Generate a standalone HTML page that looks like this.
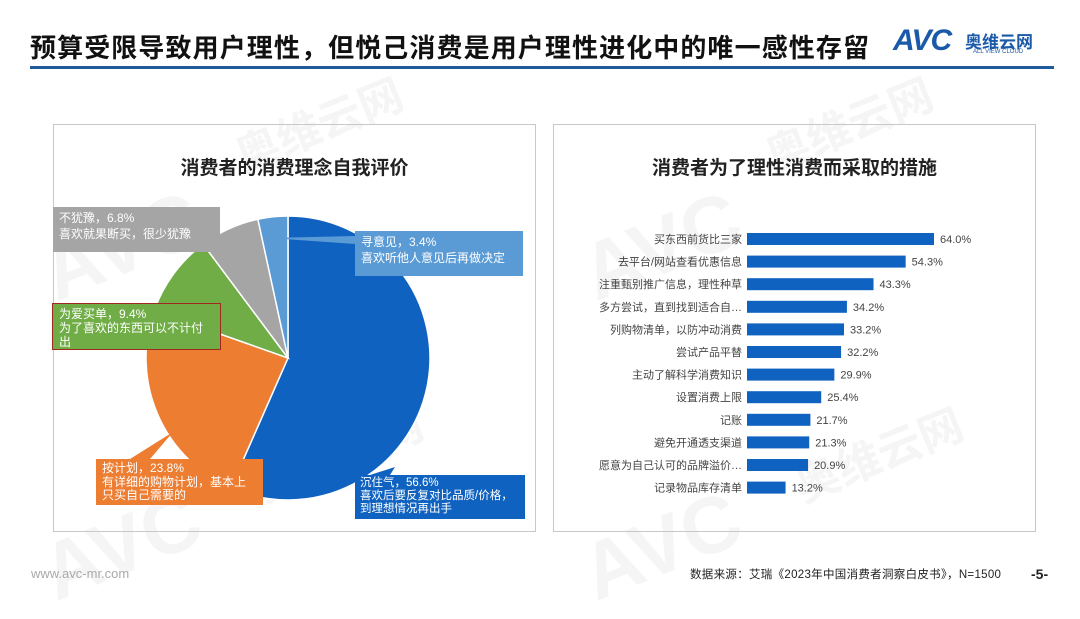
<!DOCTYPE html>
<html><head><meta charset="utf-8"><style>
body{margin:0;width:1080px;height:608px;background:#fff;overflow:hidden;position:relative;font-family:"Liberation Sans","Noto Sans CJK SC",sans-serif}
.abs{position:absolute}
.wm{position:absolute;color:rgba(215,215,215,0.25);font-weight:bold;transform:rotate(-22deg);white-space:nowrap;pointer-events:none}
.lbl{position:absolute;color:#fff;font-size:12px;line-height:16px;padding:3px 6px;box-sizing:border-box;white-space:nowrap}
</style></head><body>
<div class="abs" style="left:30px;top:28px;font-size:26px;font-weight:bold;color:#111;letter-spacing:1.1px">预算受限导致用户理性，但悦己消费是用户理性进化中的唯一感性存留</div>
<div class="abs" style="left:893px;top:24px;">
 <span style="font-size:30px;font-weight:bold;color:#1a5aa8;font-style:italic;letter-spacing:-1px">AVC</span>
 <span style="position:absolute;left:72px;top:4px;font-size:17px;font-weight:bold;color:#1a5aa8;white-space:nowrap">奥维云网</span>
 <span style="position:absolute;left:80px;top:25px;font-size:6px;color:#1a5aa8;white-space:nowrap">ALL VIEW CLOUD</span>
</div>
<div class="abs" style="left:30px;top:66px;width:1024px;height:3px;background:#1f5b9c"></div>

<div class="wm" style="left:230px;top:90px;font-size:44px">奥维云网</div>
<div class="wm" style="left:760px;top:90px;font-size:44px">奥维云网</div>
<div class="wm" style="left:250px;top:420px;font-size:44px">奥维云网</div>
<div class="wm" style="left:790px;top:420px;font-size:44px">奥维云网</div>
<div class="wm" style="left:40px;top:200px;font-size:80px">AVC</div>
<div class="wm" style="left:580px;top:200px;font-size:80px">AVC</div>
<div class="wm" style="left:40px;top:500px;font-size:80px">AVC</div>
<div class="wm" style="left:580px;top:500px;font-size:80px">AVC</div>

<div class="abs" style="left:53px;top:124px;width:483px;height:408px;border:1px solid #c8c8c8;box-sizing:border-box"></div>
<div class="abs" style="left:553px;top:124px;width:483px;height:408px;border:1px solid #c8c8c8;box-sizing:border-box"></div>
<div class="abs" style="left:53px;width:483px;top:153px;text-align:center;font-size:19px;font-weight:bold;color:#222">消费者的消费理念自我评价</div>
<div class="abs" style="left:553px;width:483px;top:153px;text-align:center;font-size:19px;font-weight:bold;color:#222">消费者为了理性消费而采取的措施</div>

<svg id="pie" class="abs" style="left:0;top:0" width="1080" height="608"></svg>
<svg id="bars" class="abs" style="left:0;top:0" width="1080" height="608"></svg>

<div class="lbl" style="left:53px;top:207px;width:167px;height:45px;background:#a5a5a5">不犹豫，6.8%<br>喜欢就果断买，很少犹豫</div>
<div class="lbl" style="left:355px;top:231px;width:168px;height:45px;background:#5b9bd5">寻意见，3.4%<br>喜欢听他人意见后再做决定</div>
<div class="lbl" style="left:52px;top:303px;width:169px;height:47px;background:#70ad47;border:1.5px solid #a0281e;line-height:14px">为爱买单，9.4%<br>为了喜欢的东西可以不计付<br>出</div>
<div class="lbl" style="left:96px;top:459px;width:167px;height:46px;background:#ed7d31;line-height:13.5px">按计划，23.8%<br>有详细的购物计划，基本上<br>只买自己需要的</div>
<div class="lbl" style="left:355px;top:475px;width:170px;height:44px;background:#0f62c0;line-height:13px;font-size:11.5px;padding:2px 5px">沉住气，56.6%<br>喜欢后要反复对比品质/价格，<br>到理想情况再出手</div>

<div class="abs" style="left:31px;top:566px;font-size:13px;color:#aaa">www.avc-mr.com</div>
<div class="abs" style="left:690px;top:566px;font-size:11.5px;color:#222;letter-spacing:0.3px">数据来源：艾瑞《2023年中国消费者洞察白皮书》，N=1500</div>
<div class="abs" style="left:1031px;top:566px;font-size:14px;color:#222;font-weight:bold">-5-</div>

<script>
const pieCats=["沉住气","按计划","为爱买单","不犹豫","寻意见"];
const pieVals=[56.6,23.8,9.4,6.8,3.4];
const pieColors=["#0f62c0","#ed7d31","#70ad47","#a5a5a5","#5b9bd5"];
const barCats=["买东西前货比三家","去平台/网站查看优惠信息","注重甄别推广信息，理性种草","多方尝试，直到找到适合自…","列购物清单，以防冲动消费","尝试产品平替","主动了解科学消费知识","设置消费上限","记账","避免开通透支渠道","愿意为自己认可的品牌溢价…","记录物品库存清单"];
const barVals=[64.0,54.3,43.3,34.2,33.2,32.2,29.9,25.4,21.7,21.3,20.9,13.2];
const NS="http://www.w3.org/2000/svg";
const pie=document.getElementById('pie');
const cx=288,cy=358,r=142;
const tot=pieVals.reduce((a,b)=>a+b,0);
let a0=0;
pieVals.forEach((v,i)=>{
 const a1=a0+v/tot*2*Math.PI;
 const x0=cx+r*Math.sin(a0),y0=cy-r*Math.cos(a0),x1=cx+r*Math.sin(a1),y1=cy-r*Math.cos(a1);
 const p=document.createElementNS(NS,'path');
 p.setAttribute('d',`M${cx},${cy}L${x0},${y0}A${r},${r} 0 ${a1-a0>Math.PI?1:0} 1 ${x1},${y1}Z`);
 p.setAttribute('fill',pieColors[i]);p.setAttribute('stroke','#fff');p.setAttribute('stroke-width','1.5');
 
 
 pie.appendChild(p);
 a0=a1;
});
const ptrs=[["#a5a5a5","200,252 218,252 240,245"],["#5b9bd5","355,236 355,244 270,238"],["#70ad47","221,312 221,330 245,320"],["#ed7d31","130,459 150,459 173,432"],["#0f62c0","370,475 390,475 395,467"]];
ptrs.forEach(([c,pts])=>{const pl=document.createElementNS(NS,'polygon');pl.setAttribute('points',pts);pl.setAttribute('fill',c);
 
 
 pie.appendChild(pl);});
const bars=document.getElementById('bars');
const bx0=747,scale=187/64,y0b=239,step=22.6,bh=12;
const xs=v=>bx0+v*scale, ys=i=>y0b+i*step;
barCats.forEach((c,i)=>{
 const rc=document.createElementNS(NS,'rect');
 rc.setAttribute('x',bx0);rc.setAttribute('y',ys(i)-bh/2);rc.setAttribute('width',xs(barVals[i])-bx0);rc.setAttribute('height',bh);rc.setAttribute('fill','#0f62c0');
 
 
 bars.appendChild(rc);
 const t=document.createElementNS(NS,'text');
 t.setAttribute('x',bx0-5);t.setAttribute('y',ys(i)+4);t.setAttribute('text-anchor','end');t.setAttribute('font-size','11');t.setAttribute('fill','#444');t.textContent=c;
 
 
 bars.appendChild(t);
 const vt=document.createElementNS(NS,'text');
 vt.setAttribute('x',xs(barVals[i])+6);vt.setAttribute('y',ys(i)+4);vt.setAttribute('font-size','11');vt.setAttribute('fill','#444');vt.textContent=barVals[i].toFixed(1)+'%';
 
 
 bars.appendChild(vt);
});
</script>
</body></html>
